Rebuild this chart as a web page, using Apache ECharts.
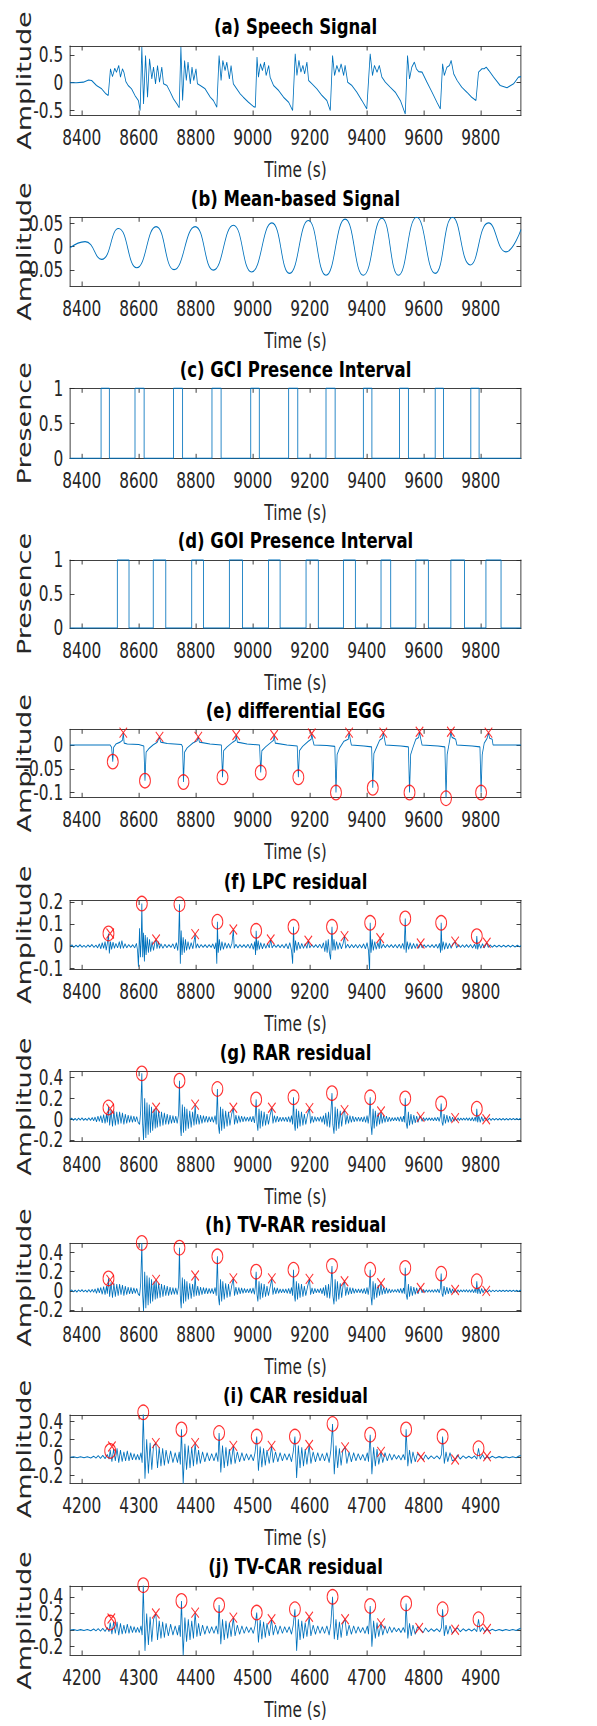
<!DOCTYPE html>
<html><head><meta charset="utf-8">
<script src="https://cdn.jsdelivr.net/npm/echarts@6/dist/echarts.min.js"></script>
<style>
html,body{margin:0;padding:0;background:#fff;overflow:hidden}
#wrap{width:597px;height:1726px;overflow:hidden;position:relative;background:#fff}
#chart{width:796px;height:1726px;transform:scaleX(0.75);transform-origin:0 0}
</style></head><body><div id="wrap"><div id="chart"></div></div>
<script>
// ---------------- DATA ----------------
const xTicksA = [8400,8600,8800,9000,9200,9400,9600,9800];
const xTicksB = [4200,4300,4400,4500,4600,4700,4800,4900];

const speech = [[8359,0],[8382,0],[8406,0.01],[8424,0.05],[8435,0.04],[8452,-0.05],[8470,-0.11],[8485,-0.2],[8493,-0.23],[8501,0.25],[8508,0.11],[8516,0.26],[8522,0.19],[8530,0.31],[8536,0.1],[8543,0.25],[8548,0.19],[8555,0.02],[8563,-0.05],[8575,-0.11],[8587,-0.23],[8599,-0.32],[8605,-0.5],[8611,0.64],[8617,-0.38],[8624,0.49],[8631,-0.26],[8638,0.43],[8646,0.07],[8652,0.28],[8659,-0.02],[8666,0.31],[8673,0.01],[8681,0.28],[8687,-0.02],[8699,-0.05],[8711,-0.17],[8722,-0.29],[8734,-0.38],[8742,-0.45],[8748,0.64],[8754,-0.32],[8761,0.4],[8767,0.04],[8773,0.37],[8781,-0.02],[8787,0.28],[8793,0.04],[8801,0.25],[8806,-0.02],[8816,-0.05],[8833,-0.11],[8851,-0.26],[8862,-0.32],[8874,-0.44],[8882,0.49],[8889,0.04],[8895,0.4],[8903,0.22],[8909,0.37],[8918,0.07],[8924,0.31],[8932,-0.02],[8944,-0.11],[8956,-0.2],[8967,-0.26],[8985,-0.35],[9003,-0.43],[9009,-0.44],[9015,0.46],[9020,0.1],[9027,0.34],[9034,0.22],[9041,0.37],[9047,0.13],[9056,0.31],[9061,0.1],[9073,-0.05],[9091,-0.14],[9108,-0.26],[9126,-0.35],[9140,-0.5],[9149,0.52],[9155,0.13],[9162,0.4],[9169,0.19],[9176,0.31],[9182,0.16],[9190,0.37],[9196,0.04],[9208,-0.02],[9225,-0.11],[9243,-0.23],[9260,-0.32],[9272,-0.5],[9280,0.49],[9287,0.13],[9295,0.31],[9303,0.19],[9310,0.34],[9319,0.13],[9324,0.31],[9333,0.01],[9348,-0.05],[9365,-0.17],[9383,-0.32],[9400,-0.47],[9412,0.52],[9420,0.13],[9427,0.31],[9436,0.19],[9444,0.31],[9453,0.1],[9465,0.01],[9482,-0.08],[9500,-0.17],[9518,-0.32],[9535,-0.56],[9543,0.49],[9550,0.07],[9558,0.28],[9567,0.37],[9574,0.25],[9582,0.2],[9594,0.19],[9611,0.01],[9629,-0.17],[9646,-0.35],[9658,-0.47],[9666,0.34],[9672,0.13],[9681,0.28],[9690,0.31],[9696,0.4],[9705,0.16],[9717,0.04],[9733,-0.08],[9751,-0.17],[9768,-0.26],[9783,-0.32],[9792,0.19],[9804,0.25],[9812,0.25],[9819,0.28],[9828,0.22],[9845,0.1],[9868,-0.05],[9892,-0.09],[9915,-0.02],[9932,0.1],[9941,0.11]];

const meanBased = [[8359,-0.002],[8412,0.011],[8470,-0.027],[8529,0.039],[8593,-0.045],[8661,0.043],[8724,-0.049],[8798,0.043],[8862,-0.05],[8932,0.046],[8996,-0.054],[9067,0.051],[9129,-0.057],[9195,0.056],[9257,-0.061],[9324,0.059],[9388,-0.061],[9453,0.061],[9511,-0.061],[9575,0.063],[9640,-0.057],[9701,0.063],[9763,-0.039],[9827,0.051],[9888,-0.011],[9941,0.037]];

const gciOn = [[8468,8497],[8587,8619],[8722,8754],[8857,8889],[8993,9023],[9126,9158],[9257,9289],[9388,9418],[9515,9546],[9640,9669],[9765,9794]];
const goiOn = [[8525,8566],[8651,8695],[8786,8827],[8918,8964],[9055,9096],[9187,9230],[9318,9360],[9450,9484],[9572,9616],[9695,9743],[9818,9871]];

const degg = [[8359,0],[8500,0],[8505,-0.005],[8509,-0.035],[8512,-0.005],[8520,0.002],[8535,0.006],[8543,0.01],[8546,0.026],[8549,0.004],[8560,0.002],[8600,0.001],[8618,-0.002],[8622,-0.075],[8626,-0.015],[8635,-0.008],[8650,0.0],[8665,0.006],[8673,0.017],[8677,0.006],[8700,0.003],[8750,0.001],[8754,-0.004],[8757,-0.078],[8761,-0.015],[8770,-0.006],[8790,0.004],[8805,0.009],[8809,0.017],[8813,0.006],[8850,0.002],[8890,0.0],[8894,-0.068],[8898,-0.012],[8910,-0.004],[8930,0.006],[8940,0.01],[8942,0.021],[8946,0.006],[8980,0.002],[9024,0.0],[9028,-0.058],[9032,-0.012],[9045,-0.004],[9065,0.006],[9073,0.01],[9075,0.021],[9079,0.004],[9120,0.0],[9156,-0.002],[9160,-0.068],[9164,-0.012],[9175,-0.003],[9195,0.008],[9205,0.012],[9207,0.024],[9211,0.01],[9215,0.0],[9260,-0.001],[9288,-0.003],[9292,-0.1],[9296,-0.02],[9305,-0.006],[9320,0.008],[9335,0.012],[9338,0.026],[9342,0.012],[9346,0.0],[9390,-0.002],[9417,-0.004],[9421,-0.09],[9425,-0.018],[9435,-0.004],[9445,0.01],[9455,0.014],[9458,0.026],[9462,0.014],[9466,0.0],[9520,-0.002],[9546,-0.004],[9550,-0.1],[9554,-0.02],[9562,-0.005],[9572,0.012],[9582,0.016],[9585,0.028],[9589,0.014],[9594,0.0],[9650,-0.002],[9674,-0.004],[9678,-0.112],[9682,-0.02],[9688,0.0],[9692,0.014],[9695,0.028],[9699,0.016],[9712,0.012],[9716,0.0],[9770,-0.002],[9797,-0.004],[9801,-0.1],[9805,-0.02],[9812,0.004],[9822,0.014],[9827,0.026],[9831,0.014],[9840,0.012],[9843,0.0],[9941,0.0]];
const deggGci = [[8509,-0.035],[8622,-0.075],[8757,-0.078],[8894,-0.068],[9028,-0.058],[9160,-0.068],[9292,-0.1],[9421,-0.09],[9550,-0.1],[9678,-0.112],[9801,-0.1]];
const deggGoi = [[8546,0.026],[8673,0.017],[8809,0.017],[8942,0.021],[9075,0.021],[9207,0.024],[9338,0.026],[9458,0.026],[9585,0.028],[9695,0.028],[9827,0.026]];

const lpc = [[8359,0],[8366,0.005],[8372,-0.006],[8380,0.004],[8387,-0.004],[8394,0.006],[8401,-0.005],[8408,0.003],[8415,-0.006],[8422,0.005],[8429,-0.004],[8436,0.007],[8443,-0.006],[8450,0.004],[8456,-0.008],[8462,0.01],[8467,-0.012],[8472,0.015],[8477,-0.01],[8482,0.02],[8486,-0.018],[8490,0.012],[8494,0.057],[8497,-0.033],[8501,0.02],[8505,-0.015],[8510,0.018],[8515,-0.01],[8520,0.012],[8526,-0.008],[8532,0.02],[8536,-0.012],[8541,0.025],[8546,-0.01],[8552,0.01],[8558,-0.008],[8565,0.007],[8572,-0.006],[8579,0.006],[8586,-0.008],[8592,0.012],[8596,-0.02],[8599,-0.093],[8603,0.08],[8606,-0.05],[8609,0.03],[8611,0.192],[8614,-0.05],[8617,0.06],[8620,-0.07],[8623,0.05],[8626,-0.04],[8630,0.04],[8634,-0.03],[8638,0.03],[8642,-0.025],[8647,0.02],[8652,-0.02],[8657,0.018],[8661,0.03],[8664,-0.012],[8669,0.02],[8673,-0.01],[8678,0.01],[8685,-0.01],[8692,0.008],[8699,-0.007],[8706,0.006],[8713,-0.006],[8720,0.01],[8726,-0.012],[8732,0.015],[8737,-0.02],[8740,0.03],[8743,0.189],[8746,-0.08],[8749,0.07],[8752,-0.04],[8756,0.04],[8760,-0.03],[8764,0.03],[8768,-0.02],[8773,0.02],[8778,-0.015],[8784,0.015],[8790,-0.012],[8798,0.054],[8801,-0.01],[8806,0.01],[8812,-0.008],[8819,0.007],[8826,-0.006],[8833,0.006],[8840,-0.007],[8847,0.006],[8854,-0.006],[8860,0.01],[8866,-0.012],[8871,0.015],[8874,-0.08],[8876,0.11],[8879,-0.03],[8883,0.03],[8887,-0.02],[8892,0.02],[8897,-0.015],[8903,0.015],[8909,-0.01],[8915,0.012],[8921,-0.01],[8927,0.012],[8932,0.075],[8935,-0.01],[8941,0.008],[8948,-0.008],[8955,0.007],[8962,-0.006],[8969,0.006],[8976,-0.007],[8983,0.008],[8990,-0.01],[8996,0.012],[9002,-0.015],[9007,0.02],[9010,-0.04],[9012,0.069],[9015,-0.02],[9019,0.025],[9023,-0.015],[9028,0.015],[9034,-0.012],[9040,0.012],[9046,-0.01],[9052,0.01],[9058,-0.008],[9063,0.03],[9068,-0.008],[9075,0.007],[9082,-0.006],[9089,0.006],[9096,-0.007],[9103,0.007],[9110,-0.008],[9117,0.01],[9124,-0.012],[9130,0.015],[9136,-0.02],[9140,-0.08],[9143,0.087],[9146,-0.03],[9150,0.025],[9155,-0.02],[9160,0.018],[9166,-0.012],[9172,0.012],[9178,-0.01],[9184,0.01],[9190,-0.01],[9195,0.024],[9200,-0.008],[9207,0.007],[9214,-0.006],[9221,0.006],[9228,-0.007],[9235,0.008],[9242,-0.01],[9248,0.015],[9253,-0.025],[9257,0.025],[9261,-0.03],[9265,0.03],[9269,-0.03],[9273,-0.06],[9276,0.03],[9278,0.087],[9281,-0.02],[9285,0.03],[9289,-0.02],[9294,0.02],[9299,-0.015],[9305,0.015],[9311,-0.012],[9317,0.012],[9322,0.045],[9326,-0.01],[9333,0.008],[9340,-0.008],[9347,0.007],[9354,-0.007],[9361,0.007],[9368,-0.008],[9375,0.007],[9382,-0.008],[9389,0.01],[9395,-0.012],[9401,0.015],[9406,-0.02],[9410,-0.115],[9412,0.105],[9415,-0.03],[9419,0.03],[9423,-0.02],[9428,0.02],[9433,-0.015],[9439,0.015],[9444,-0.012],[9447,0.035],[9451,-0.01],[9458,0.008],[9465,-0.007],[9472,0.007],[9479,-0.006],[9486,0.006],[9493,-0.007],[9500,0.007],[9507,-0.008],[9514,0.008],[9520,-0.01],[9526,0.012],[9531,-0.015],[9535,0.125],[9538,-0.03],[9542,0.02],[9547,-0.015],[9552,0.015],[9558,-0.012],[9564,0.012],[9570,-0.01],[9576,0.01],[9582,-0.01],[9589,0.012],[9594,-0.008],[9601,0.006],[9608,-0.006],[9615,0.005],[9622,-0.006],[9629,0.006],[9636,-0.007],[9643,0.008],[9649,-0.01],[9655,0.012],[9659,-0.03],[9661,0.105],[9664,-0.02],[9668,0.02],[9673,-0.015],[9678,0.015],[9684,-0.012],[9690,0.012],[9696,-0.01],[9702,0.01],[9710,0.02],[9715,-0.008],[9722,0.006],[9729,-0.006],[9736,0.005],[9743,-0.006],[9750,0.006],[9757,-0.006],[9764,0.007],[9771,-0.008],[9778,0.008],[9783,-0.012],[9786,0.045],[9789,-0.015],[9794,0.012],[9800,-0.01],[9806,0.01],[9812,-0.008],[9821,0.015],[9826,-0.006],[9833,0.005],[9840,-0.005],[9848,0.004],[9856,-0.004],[9864,0.004],[9872,-0.004],[9880,0.004],[9888,-0.004],[9896,0.004],[9904,-0.004],[9912,0.004],[9920,-0.004],[9928,0.004],[9936,-0.003],[9941,0.002]];
const lpcGci = [[8494,0.057],[8611,0.192],[8743,0.189],[8876,0.11],[9012,0.069],[9143,0.087],[9278,0.087],[9412,0.105],[9535,0.125],[9661,0.105],[9786,0.045]];
const lpcGoi = [[8500,0.057],[8661,0.03],[8798,0.054],[8932,0.075],[9063,0.03],[9195,0.024],[9322,0.045],[9447,0.035],[9589,0.012],[9710,0.02],[9821,0.015]];

const rar = [[8359,0],[8365,0.01],[8371,-0.01],[8377,0.008],[8383,-0.012],[8389,0.01],[8395,-0.008],[8401,0.012],[8407,-0.01],[8413,0.008],[8419,-0.012],[8425,0.012],[8431,-0.012],[8437,0.015],[8442,-0.015],[8447,0.02],[8452,-0.025],[8457,0.03],[8462,-0.02],[8467,0.035],[8472,-0.035],[8477,0.045],[8482,-0.04],[8487,0.05],[8490,-0.03],[8494,0.12],[8498,-0.06],[8503,0.09],[8508,-0.07],[8513,0.08],[8518,-0.06],[8523,0.07],[8528,-0.05],[8533,0.07],[8538,-0.04],[8543,0.06],[8548,-0.05],[8553,0.05],[8558,-0.04],[8563,0.04],[8568,-0.03],[8573,0.035],[8578,-0.03],[8583,0.03],[8588,-0.025],[8593,0.025],[8598,-0.03],[8603,-0.05],[8607,0.08],[8611,0.44],[8614,-0.05],[8617,-0.2],[8621,0.2],[8625,-0.18],[8629,0.16],[8633,-0.15],[8637,0.14],[8641,-0.13],[8645,0.12],[8649,-0.11],[8654,0.1],[8658,-0.09],[8661,0.11],[8665,-0.08],[8670,0.08],[8675,-0.07],[8680,0.07],[8685,-0.06],[8690,0.06],[8695,-0.05],[8700,0.05],[8705,-0.05],[8710,0.04],[8715,-0.04],[8720,0.035],[8725,-0.035],[8730,0.03],[8735,-0.04],[8740,0.05],[8743,0.37],[8746,-0.06],[8749,-0.16],[8753,0.14],[8757,-0.13],[8761,0.12],[8765,-0.11],[8769,0.1],[8774,-0.09],[8779,0.08],[8784,-0.08],[8789,0.07],[8794,-0.06],[8798,0.14],[8802,-0.05],[8807,0.05],[8812,-0.05],[8817,0.04],[8822,-0.04],[8827,0.035],[8832,-0.03],[8837,0.03],[8842,-0.03],[8847,0.025],[8852,-0.025],[8857,0.025],[8862,-0.03],[8868,0.035],[8872,-0.05],[8876,0.29],[8879,-0.04],[8883,-0.14],[8887,0.12],[8891,-0.11],[8895,0.1],[8900,-0.09],[8905,0.08],[8910,-0.07],[8915,0.07],[8920,-0.06],[8926,0.05],[8932,0.11],[8936,-0.05],[8941,0.04],[8946,-0.04],[8951,0.035],[8956,-0.03],[8961,0.03],[8966,-0.025],[8971,0.025],[8976,-0.02],[8981,0.02],[8986,-0.02],[8991,0.025],[8996,-0.025],[9001,0.03],[9006,-0.035],[9009,0.04],[9012,0.19],[9015,-0.04],[9018,-0.11],[9022,0.1],[9026,-0.09],[9030,0.08],[9035,-0.07],[9040,0.07],[9045,-0.06],[9050,0.05],[9055,-0.05],[9061,0.04],[9067,0.11],[9071,-0.04],[9076,0.035],[9081,-0.03],[9086,0.03],[9091,-0.025],[9096,0.02],[9101,-0.02],[9106,0.02],[9111,-0.02],[9116,0.02],[9121,-0.025],[9126,0.025],[9131,-0.03],[9136,0.035],[9140,-0.05],[9143,0.21],[9146,-0.04],[9149,-0.11],[9153,0.1],[9157,-0.09],[9161,0.08],[9166,-0.07],[9171,0.07],[9176,-0.06],[9181,0.05],[9186,-0.05],[9192,0.04],[9199,0.106],[9203,-0.04],[9208,0.03],[9213,-0.03],[9218,0.025],[9223,-0.02],[9228,0.02],[9233,-0.02],[9238,0.025],[9243,-0.03],[9248,0.035],[9252,-0.05],[9256,0.06],[9261,-0.07],[9266,0.07],[9270,-0.08],[9274,0.06],[9278,0.25],[9281,-0.05],[9285,-0.14],[9289,0.12],[9293,-0.11],[9297,0.1],[9302,-0.09],[9307,0.08],[9312,-0.07],[9317,0.06],[9322,0.087],[9326,-0.05],[9331,0.04],[9336,-0.04],[9341,0.035],[9346,-0.03],[9351,0.03],[9356,-0.025],[9361,0.02],[9366,-0.02],[9371,0.02],[9376,-0.02],[9381,0.02],[9386,-0.025],[9391,0.025],[9396,-0.03],[9401,0.035],[9405,-0.04],[9409,0.05],[9412,0.21],[9415,-0.06],[9418,-0.15],[9422,0.1],[9426,-0.09],[9430,0.08],[9435,-0.07],[9440,0.06],[9445,-0.05],[9450,0.074],[9454,-0.04],[9459,0.035],[9464,-0.03],[9469,0.03],[9474,-0.025],[9479,0.02],[9484,-0.02],[9489,0.015],[9494,-0.015],[9499,0.015],[9504,-0.015],[9509,0.02],[9514,-0.02],[9519,0.025],[9524,-0.025],[9529,0.03],[9532,-0.03],[9535,0.2],[9538,-0.03],[9542,-0.09],[9546,0.07],[9550,-0.06],[9555,0.05],[9560,-0.05],[9565,0.04],[9570,-0.035],[9575,0.03],[9580,-0.03],[9585,0.025],[9589,0.022],[9594,-0.02],[9599,0.015],[9604,-0.015],[9609,0.012],[9614,-0.012],[9619,0.012],[9624,-0.012],[9629,0.012],[9634,-0.015],[9639,0.015],[9644,-0.015],[9649,0.018],[9654,-0.02],[9658,0.025],[9661,0.15],[9664,-0.03],[9667,-0.06],[9671,0.05],[9676,-0.04],[9681,0.04],[9686,-0.03],[9691,0.03],[9696,-0.025],[9701,0.02],[9706,-0.02],[9710,0.01],[9715,-0.015],[9720,0.012],[9725,-0.012],[9730,0.01],[9735,-0.01],[9740,0.01],[9745,-0.01],[9750,0.012],[9755,-0.012],[9760,0.012],[9765,-0.015],[9770,0.015],[9775,-0.018],[9780,0.02],[9783,-0.02],[9786,0.1],[9789,-0.03],[9793,0.035],[9798,-0.03],[9803,0.025],[9808,-0.02],[9813,0.015],[9819,0.0],[9824,-0.012],[9830,0.01],[9836,-0.01],[9842,0.008],[9848,-0.008],[9854,0.008],[9860,-0.008],[9866,0.007],[9872,-0.007],[9878,0.007],[9884,-0.007],[9890,0.006],[9896,-0.007],[9902,0.007],[9908,-0.006],[9914,0.006],[9920,-0.006],[9926,0.007],[9932,-0.006],[9938,0.006],[9941,0.004]];
const rarGci = [[8494,0.112],[8611,0.44],[8743,0.37],[8876,0.29],[9012,0.19],[9143,0.21],[9278,0.25],[9412,0.21],[9535,0.2],[9661,0.15],[9786,0.1]];
const rarGoi = [[8500,0.1],[8661,0.11],[8798,0.14],[8932,0.11],[9067,0.11],[9199,0.106],[9322,0.087],[9450,0.074],[9589,0.022],[9710,0.01],[9819,0.0]];

const tvrar = [[8359,0],[8365,0.01],[8371,-0.01],[8377,0.008],[8383,-0.012],[8389,0.01],[8395,-0.008],[8401,0.012],[8407,-0.01],[8413,0.008],[8419,-0.012],[8425,0.012],[8431,-0.012],[8437,0.015],[8442,-0.015],[8447,0.02],[8452,-0.025],[8457,0.03],[8462,-0.02],[8467,0.035],[8472,-0.035],[8477,0.045],[8482,-0.04],[8487,0.05],[8490,-0.03],[8494,0.13],[8498,-0.06],[8503,0.09],[8508,-0.07],[8513,0.08],[8518,-0.06],[8523,0.07],[8528,-0.05],[8533,0.07],[8538,-0.04],[8543,0.06],[8548,-0.05],[8553,0.05],[8558,-0.04],[8563,0.04],[8568,-0.03],[8573,0.035],[8578,-0.03],[8583,0.03],[8588,-0.025],[8593,0.025],[8598,-0.03],[8603,-0.05],[8607,0.08],[8611,0.5],[8614,-0.05],[8617,-0.21],[8621,0.2],[8625,-0.18],[8629,0.16],[8633,-0.15],[8637,0.14],[8641,-0.13],[8645,0.12],[8649,-0.11],[8654,0.1],[8658,-0.09],[8661,0.115],[8665,-0.08],[8670,0.08],[8675,-0.07],[8680,0.07],[8685,-0.06],[8690,0.06],[8695,-0.05],[8700,0.05],[8705,-0.05],[8710,0.04],[8715,-0.04],[8720,0.035],[8725,-0.035],[8730,0.03],[8735,-0.04],[8740,0.05],[8743,0.45],[8746,-0.06],[8749,-0.18],[8753,0.14],[8757,-0.13],[8761,0.12],[8765,-0.11],[8769,0.1],[8774,-0.09],[8779,0.08],[8784,-0.08],[8789,0.07],[8794,-0.06],[8798,0.16],[8802,-0.05],[8807,0.05],[8812,-0.05],[8817,0.04],[8822,-0.04],[8827,0.035],[8832,-0.03],[8837,0.03],[8842,-0.03],[8847,0.025],[8852,-0.025],[8857,0.025],[8862,-0.03],[8868,0.035],[8872,-0.05],[8876,0.36],[8879,-0.04],[8883,-0.15],[8887,0.12],[8891,-0.11],[8895,0.1],[8900,-0.09],[8905,0.08],[8910,-0.07],[8915,0.07],[8920,-0.06],[8926,0.05],[8932,0.13],[8936,-0.05],[8941,0.04],[8946,-0.04],[8951,0.035],[8956,-0.03],[8961,0.03],[8966,-0.025],[8971,0.025],[8976,-0.02],[8981,0.02],[8986,-0.02],[8991,0.025],[8996,-0.025],[9001,0.03],[9006,-0.035],[9009,0.04],[9012,0.2],[9015,-0.04],[9018,-0.11],[9022,0.1],[9026,-0.09],[9030,0.08],[9035,-0.07],[9040,0.07],[9045,-0.06],[9050,0.05],[9055,-0.05],[9061,0.04],[9067,0.13],[9071,-0.04],[9076,0.035],[9081,-0.03],[9086,0.03],[9091,-0.025],[9096,0.02],[9101,-0.02],[9106,0.02],[9111,-0.02],[9116,0.02],[9121,-0.025],[9126,0.025],[9131,-0.03],[9136,0.035],[9140,-0.05],[9143,0.22],[9146,-0.04],[9149,-0.11],[9153,0.1],[9157,-0.09],[9161,0.08],[9166,-0.07],[9171,0.07],[9176,-0.06],[9181,0.05],[9186,-0.05],[9192,0.04],[9199,0.125],[9203,-0.04],[9208,0.03],[9213,-0.03],[9218,0.025],[9223,-0.02],[9228,0.02],[9233,-0.02],[9238,0.025],[9243,-0.03],[9248,0.035],[9252,-0.05],[9256,0.06],[9261,-0.07],[9266,0.07],[9270,-0.08],[9274,0.06],[9278,0.26],[9281,-0.05],[9285,-0.14],[9289,0.12],[9293,-0.11],[9297,0.1],[9302,-0.09],[9307,0.08],[9312,-0.07],[9317,0.06],[9322,0.1],[9326,-0.05],[9331,0.04],[9336,-0.04],[9341,0.035],[9346,-0.03],[9351,0.03],[9356,-0.025],[9361,0.02],[9366,-0.02],[9371,0.02],[9376,-0.02],[9381,0.02],[9386,-0.025],[9391,0.025],[9396,-0.03],[9401,0.035],[9405,-0.04],[9409,0.05],[9412,0.22],[9415,-0.06],[9418,-0.15],[9422,0.1],[9426,-0.09],[9430,0.08],[9435,-0.07],[9440,0.06],[9445,-0.05],[9450,0.08],[9454,-0.04],[9459,0.035],[9464,-0.03],[9469,0.03],[9474,-0.025],[9479,0.02],[9484,-0.02],[9489,0.015],[9494,-0.015],[9499,0.015],[9504,-0.015],[9509,0.02],[9514,-0.02],[9519,0.025],[9524,-0.025],[9529,0.03],[9532,-0.03],[9535,0.24],[9538,-0.03],[9542,-0.09],[9546,0.07],[9550,-0.06],[9555,0.05],[9560,-0.05],[9565,0.04],[9570,-0.035],[9575,0.03],[9580,-0.03],[9585,0.025],[9589,0.03],[9594,-0.02],[9599,0.015],[9604,-0.015],[9609,0.012],[9614,-0.012],[9619,0.012],[9624,-0.012],[9629,0.012],[9634,-0.015],[9639,0.015],[9644,-0.015],[9649,0.018],[9654,-0.02],[9658,0.025],[9661,0.18],[9664,-0.03],[9667,-0.06],[9671,0.05],[9676,-0.04],[9681,0.04],[9686,-0.03],[9691,0.03],[9696,-0.025],[9701,0.02],[9706,-0.02],[9710,0.01],[9715,-0.015],[9720,0.012],[9725,-0.012],[9730,0.01],[9735,-0.01],[9740,0.01],[9745,-0.01],[9750,0.012],[9755,-0.012],[9760,0.012],[9765,-0.015],[9770,0.015],[9775,-0.018],[9780,0.02],[9783,-0.02],[9786,0.1],[9789,-0.03],[9793,0.035],[9798,-0.03],[9803,0.025],[9808,-0.02],[9813,0.015],[9819,0.0],[9824,-0.012],[9830,0.01],[9836,-0.01],[9842,0.008],[9848,-0.008],[9854,0.008],[9860,-0.008],[9866,0.007],[9872,-0.007],[9878,0.007],[9884,-0.007],[9890,0.006],[9896,-0.007],[9902,0.007],[9908,-0.006],[9914,0.006],[9920,-0.006],[9926,0.007],[9932,-0.006],[9938,0.006],[9941,0.004]];
const tvrarGci = [[8494,0.13],[8611,0.5],[8743,0.45],[8876,0.36],[9012,0.2],[9143,0.22],[9278,0.26],[9412,0.22],[9535,0.24],[9661,0.18],[9786,0.1]];
const tvrarGoi = [[8500,0.115],[8661,0.115],[8798,0.16],[8932,0.13],[9067,0.13],[9199,0.125],[9322,0.1],[9450,0.08],[9589,0.03],[9710,0.01],[9819,0.0]];

const car = [[4180,0],[4186,0.006],[4192,-0.006],[4198,0.005],[4204,-0.006],[4210,0.006],[4216,-0.008],[4221,0.012],[4225,-0.01],[4229,0.018],[4233,-0.012],[4237,0.02],[4241,-0.015],[4245,0.03],[4248,-0.02],[4250,0.08],[4253,-0.05],[4256,0.09],[4259,-0.04],[4262,0.1],[4265,-0.06],[4268,0.08],[4271,-0.05],[4274,0.06],[4277,-0.04],[4280,0.07],[4283,-0.04],[4286,0.05],[4289,-0.03],[4292,0.04],[4295,-0.03],[4298,0.03],[4301,-0.03],[4304,0.05],[4306,-0.06],[4308,0.5],[4311,-0.24],[4314,0.2],[4317,-0.18],[4320,0.16],[4323,-0.14],[4326,0.13],[4330,0.157],[4333,-0.12],[4336,0.11],[4339,-0.1],[4342,0.1],[4345,-0.09],[4348,0.08],[4352,-0.07],[4356,0.07],[4360,-0.06],[4364,0.05],[4368,-0.06],[4371,0.06],[4373,-0.08],[4375,0.31],[4378,-0.3],[4381,0.15],[4384,-0.14],[4387,0.13],[4390,-0.12],[4393,0.11],[4396,-0.1],[4399,0.157],[4402,-0.08],[4405,0.08],[4408,-0.07],[4412,0.06],[4416,-0.05],[4420,0.05],[4424,-0.04],[4428,0.04],[4432,-0.04],[4436,0.05],[4439,-0.05],[4441,0.27],[4444,-0.17],[4447,0.13],[4450,-0.12],[4453,0.11],[4456,-0.1],[4459,0.09],[4462,-0.08],[4466,0.126],[4469,-0.07],[4473,0.06],[4477,-0.05],[4481,0.05],[4485,-0.04],[4489,0.04],[4493,-0.03],[4497,0.03],[4501,-0.04],[4504,0.05],[4507,0.23],[4510,-0.15],[4513,0.12],[4516,-0.11],[4519,0.1],[4522,-0.09],[4525,0.08],[4529,-0.07],[4533,0.126],[4536,-0.06],[4540,0.06],[4544,-0.05],[4548,0.05],[4552,-0.04],[4556,0.04],[4560,-0.03],[4564,0.04],[4568,-0.05],[4571,0.06],[4574,0.23],[4577,-0.23],[4580,0.13],[4583,-0.12],[4586,0.11],[4589,-0.1],[4592,0.09],[4595,-0.08],[4599,0.137],[4602,-0.07],[4606,0.06],[4610,-0.05],[4614,0.05],[4618,-0.04],[4622,0.04],[4626,-0.04],[4630,0.05],[4634,-0.06],[4637,0.08],[4640,0.37],[4643,-0.19],[4646,0.13],[4649,-0.12],[4652,0.1],[4655,-0.09],[4658,0.08],[4662,0.11],[4665,-0.07],[4669,0.06],[4673,-0.05],[4677,0.05],[4681,-0.04],[4685,0.04],[4689,-0.03],[4693,0.03],[4697,-0.04],[4701,0.05],[4703,-0.05],[4706,0.25],[4709,-0.19],[4712,0.11],[4715,-0.1],[4718,0.09],[4721,-0.08],[4725,0.06],[4728,-0.06],[4732,0.05],[4736,-0.04],[4740,0.04],[4744,-0.03],[4748,0.03],[4752,-0.02],[4756,0.02],[4760,-0.03],[4764,0.03],[4767,-0.03],[4769,0.31],[4772,-0.1],[4775,0.08],[4778,-0.07],[4781,0.06],[4785,-0.05],[4789,0.04],[4795,0.003],[4799,-0.03],[4803,0.025],[4808,-0.02],[4813,0.015],[4818,-0.015],[4823,0.015],[4828,-0.02],[4831,0.03],[4833,0.23],[4836,-0.07],[4839,0.06],[4842,-0.05],[4846,0.05],[4850,-0.04],[4855,-0.026],[4859,0.025],[4864,-0.02],[4869,0.015],[4874,-0.012],[4879,0.012],[4884,-0.012],[4889,0.015],[4893,-0.02],[4896,0.1],[4899,-0.02],[4903,0.03],[4907,-0.02],[4911,0.011],[4915,-0.012],[4920,0.01],[4926,-0.008],[4932,0.007],[4938,-0.007],[4944,0.006],[4950,-0.006],[4956,0.006],[4962,-0.005],[4966,0.01],[4970,0.02]];
const carGci = [[4250,0.07],[4308,0.5],[4375,0.31],[4441,0.27],[4507,0.23],[4574,0.23],[4640,0.37],[4706,0.25],[4769,0.31],[4833,0.23],[4896,0.1]];
const carGoi = [[4253,0.12],[4330,0.157],[4399,0.157],[4466,0.126],[4533,0.126],[4599,0.137],[4662,0.11],[4725,0.06],[4795,0.003],[4855,-0.026],[4911,0.011]];

const tvcar = [[4180,0],[4186,0.006],[4192,-0.006],[4198,0.005],[4204,-0.006],[4210,0.006],[4216,-0.008],[4221,0.012],[4225,-0.01],[4229,0.018],[4233,-0.012],[4237,0.02],[4241,-0.015],[4245,0.03],[4248,-0.02],[4250,0.09],[4253,-0.05],[4256,0.1],[4259,-0.04],[4262,0.1],[4265,-0.06],[4268,0.08],[4271,-0.05],[4274,0.06],[4277,-0.04],[4280,0.07],[4283,-0.04],[4286,0.05],[4289,-0.03],[4292,0.04],[4295,-0.03],[4298,0.03],[4301,-0.03],[4304,0.05],[4306,-0.06],[4308,0.54],[4311,-0.25],[4314,0.2],[4317,-0.18],[4320,0.16],[4323,-0.14],[4326,0.13],[4330,0.2],[4333,-0.12],[4336,0.11],[4339,-0.1],[4342,0.1],[4345,-0.09],[4348,0.08],[4352,-0.07],[4356,0.07],[4360,-0.06],[4364,0.05],[4368,-0.06],[4371,0.06],[4373,-0.08],[4375,0.35],[4378,-0.31],[4381,0.15],[4384,-0.14],[4387,0.13],[4390,-0.12],[4393,0.11],[4396,-0.1],[4399,0.21],[4402,-0.08],[4405,0.08],[4408,-0.07],[4412,0.06],[4416,-0.05],[4420,0.05],[4424,-0.04],[4428,0.04],[4432,-0.04],[4436,0.05],[4439,-0.05],[4441,0.3],[4444,-0.17],[4447,0.13],[4450,-0.12],[4453,0.11],[4456,-0.1],[4459,0.09],[4462,-0.08],[4466,0.15],[4469,-0.07],[4473,0.06],[4477,-0.05],[4481,0.05],[4485,-0.04],[4489,0.04],[4493,-0.03],[4497,0.03],[4501,-0.04],[4504,0.05],[4507,0.21],[4510,-0.15],[4513,0.12],[4516,-0.11],[4519,0.1],[4522,-0.09],[4525,0.08],[4529,-0.07],[4533,0.13],[4536,-0.06],[4540,0.06],[4544,-0.05],[4548,0.05],[4552,-0.04],[4556,0.04],[4560,-0.03],[4564,0.04],[4568,-0.05],[4571,0.06],[4574,0.25],[4577,-0.25],[4580,0.13],[4583,-0.12],[4586,0.11],[4589,-0.1],[4592,0.09],[4595,-0.08],[4599,0.16],[4602,-0.07],[4606,0.06],[4610,-0.05],[4614,0.05],[4618,-0.04],[4622,0.04],[4626,-0.04],[4630,0.05],[4634,-0.06],[4637,0.08],[4640,0.4],[4643,-0.11],[4646,0.13],[4649,-0.12],[4652,0.1],[4655,-0.09],[4658,0.08],[4662,0.13],[4665,-0.07],[4669,0.06],[4673,-0.05],[4677,0.05],[4681,-0.04],[4685,0.04],[4689,-0.03],[4693,0.03],[4697,-0.04],[4701,0.05],[4703,-0.05],[4706,0.29],[4709,-0.2],[4712,0.11],[4715,-0.1],[4718,0.09],[4721,-0.08],[4725,0.08],[4728,-0.06],[4732,0.05],[4736,-0.04],[4740,0.04],[4744,-0.03],[4748,0.03],[4752,-0.02],[4756,0.02],[4760,-0.03],[4764,0.03],[4767,-0.03],[4769,0.32],[4772,-0.1],[4775,0.08],[4778,-0.07],[4781,0.06],[4785,-0.05],[4789,0.04],[4792,0.024],[4799,-0.03],[4803,0.025],[4808,-0.02],[4813,0.015],[4818,-0.015],[4823,0.015],[4828,-0.02],[4831,0.03],[4833,0.25],[4836,-0.07],[4839,0.06],[4842,-0.05],[4846,0.05],[4850,-0.04],[4855,0.004],[4859,0.025],[4864,-0.02],[4869,0.015],[4874,-0.012],[4879,0.012],[4884,-0.012],[4889,0.015],[4893,-0.02],[4896,0.13],[4899,-0.02],[4903,0.03],[4907,-0.02],[4911,0.012],[4915,-0.012],[4920,0.01],[4926,-0.008],[4932,0.007],[4938,-0.007],[4944,0.006],[4950,-0.006],[4956,0.006],[4962,-0.005],[4966,0.01],[4970,0.02]];
const tvcarGci = [[4250,0.09],[4308,0.54],[4375,0.35],[4441,0.3],[4507,0.21],[4574,0.25],[4640,0.4],[4706,0.29],[4769,0.32],[4833,0.25],[4896,0.13]];
const tvcarGoi = [[4252,0.14],[4330,0.2],[4399,0.21],[4466,0.15],[4533,0.13],[4599,0.16],[4662,0.13],[4725,0.08],[4792,0.024],[4855,0.004],[4911,0.012]];

// ---------------- LAYOUT / STYLE ----------------
const K = 0.75;                 // horizontal squeeze of the original figure
const FONT = '"DejaVu Sans", sans-serif';
const TXT = '#262626';
const PL = 70 / K, PW = 451 / K;

function stepLine(on, x0, x1) {
  const out = [[x0, 0]];
  on.forEach(([a, b]) => { out.push([a, 1]); out.push([b, 0]); });
  out.push([x1, 0]);
  return out;
}

const panels = [
  {title:'(a) Speech Signal', ylab:'Amplitude', top:46, bottom:115, x:[8359,9941], xt:xTicksA, y:[-0.58,0.66], yt:[-0.5,0,0.5], line:speech},
  {title:'(b) Mean-based Signal', ylab:'Amplitude', top:217.3, bottom:286, x:[8359,9941], xt:xTicksA, y:[-0.084,0.063], yt:[-0.05,0,0.05], line:meanBased, smooth:true},
  {title:'(c) GCI Presence Interval', ylab:'Presence', top:388.3, bottom:458.3, x:[8359,9941], xt:xTicksA, y:[0,1], yt:[0,0.5,1], line:stepLine(gciOn,8359,9941), step:'end', noclip:true},
  {title:'(d) GOI Presence Interval', ylab:'Presence', top:560, bottom:628, x:[8359,9941], xt:xTicksA, y:[0,1], yt:[0,0.5,1], line:stepLine(goiOn,8359,9941), step:'end', noclip:true},
  {title:'(e) differential EGG', ylab:'Amplitude', top:729.3, bottom:797.3, x:[8359,9941], xt:xTicksA, y:[-0.11,0.033], yt:[-0.1,-0.05,0], line:degg, circ:deggGci, cross:deggGoi},
  {title:'(f) LPC residual', ylab:'Amplitude', top:900.5, bottom:969.3, x:[8359,9941], xt:xTicksA, y:[-0.105,0.206], yt:[-0.1,0,0.1,0.2], line:lpc, circ:lpcGci, cross:lpcGoi},
  {title:'(g) RAR residual', ylab:'Amplitude', top:1071.7, bottom:1141.7, x:[8359,9941], xt:xTicksA, y:[-0.216,0.456], yt:[-0.2,0,0.2,0.4], line:rar, circ:rarGci, cross:rarGoi},
  {title:'(h) TV-RAR residual', ylab:'Amplitude', top:1243.3, bottom:1311.7, x:[8359,9941], xt:xTicksA, y:[-0.217,0.496], yt:[-0.2,0,0.2,0.4], line:tvrar, circ:tvrarGci, cross:tvrarGoi},
  {title:'(i) CAR residual', ylab:'Amplitude', top:1415, bottom:1483.3, x:[4179.5,4970.5], xt:xTicksB, y:[-0.29,0.47], yt:[-0.2,0,0.2,0.4], line:car, circ:carGci, cross:carGoi},
  {title:'(j) TV-CAR residual', ylab:'Amplitude', top:1586, bottom:1655, x:[4179.5,4970.5], xt:xTicksB, y:[-0.3,0.53], yt:[-0.2,0,0.2,0.4], line:tvcar, circ:tvcarGci, cross:tvcarGoi}
];

const grids = [], xAxes = [], yAxes = [], series = [], graphics = [];
const lineSt = {color: '#262626', width: 1};
const fmt = v => String(Math.round(v * 1000) / 1000);
const labelBase = {show: true, formatter: fmt, fontSize: 20.5, fontFamily: FONT, color: TXT, hideOverlap: false, showMinLabel: true, showMaxLabel: true};
panels.forEach((p, i) => {
  grids.push({left: PL, width: PW, top: p.top, height: p.bottom - p.top, containLabel: false, outerBoundsMode: 'none'});
  const common = {type: 'value', gridIndex: i, splitLine: {show: false}, axisLine: {show: true, onZero: false, lineStyle: lineSt}};
  xAxes.push(Object.assign({}, common, {position: 'bottom', min: p.x[0], max: p.x[1],
    axisTick: {show: true, inside: true, length: 4.5, customValues: p.xt, lineStyle: lineSt},
    axisLabel: Object.assign({}, labelBase, {customValues: p.xt, margin: 12})}));
  xAxes.push(Object.assign({}, common, {position: 'top', min: p.x[0], max: p.x[1],
    axisTick: {show: true, inside: true, length: 4.5, customValues: p.xt, lineStyle: lineSt},
    axisLabel: {show: false}}));
  // left axis: line, all ticks, labels at even positions
  const ytA = p.yt.filter((v, k) => k % 2 === 0);
  const ytB = p.yt.filter((v, k) => k % 2 === 1);
  yAxes.push(Object.assign({}, common, {position: 'left', min: p.y[0], max: p.y[1],
    axisTick: {show: true, inside: true, length: 6, customValues: p.yt, lineStyle: lineSt},
    axisLabel: Object.assign({}, labelBase, {customValues: ytA, margin: 9})}));
  // second left axis: only the remaining labels (keeps neighbouring labels from being culled)
  yAxes.push(Object.assign({}, common, {position: 'left', offset: 0, min: p.y[0], max: p.y[1],
    axisLine: {show: false, onZero: false}, axisTick: {show: false},
    axisLabel: Object.assign({}, labelBase, {customValues: ytB, margin: 9})}));
  yAxes.push(Object.assign({}, common, {position: 'right', min: p.y[0], max: p.y[1],
    axisTick: {show: true, inside: true, length: 6, customValues: p.yt, lineStyle: lineSt},
    axisLabel: {show: false}}));
  const xi = 2 * i, yi = 3 * i;
  series.push({type: 'line', xAxisIndex: xi, yAxisIndex: yi, data: p.line, showSymbol: false, symbol: 'none',
    lineStyle: {color: '#0072BD', width: 1.1}, smooth: p.smooth || false, step: p.step || false,
    clip: !p.noclip, animation: false, silent: true, z: 3});
  if (p.circ) series.push({type: 'scatter', xAxisIndex: xi, yAxisIndex: yi, data: p.circ, symbol: 'circle', symbolSize: 14.5,
    itemStyle: {color: 'rgba(0,0,0,0)', borderColor: '#FF0000', borderWidth: 1.3}, clip: false, animation: false, silent: true, z: 5});
  if (p.cross) series.push({type: 'scatter', xAxisIndex: xi, yAxisIndex: yi, data: p.cross, symbol: 'path://M0 0L10 10M10 0L0 10', symbolSize: 10,
    itemStyle: {color: 'none', borderColor: '#FF0000', borderWidth: 1.3}, clip: false, animation: false, silent: true, z: 5});
  const mid = PL + PW / 2;
  graphics.push({type: 'text', x: mid, y: p.top - 19, silent: true,
    style: {text: p.title, fontSize: 22, fontWeight: 'bold', fontFamily: FONT, fill: '#000', align: 'center', verticalAlign: 'middle', textAlign: 'center', textVerticalAlign: 'middle'}});
  graphics.push({type: 'text', x: mid, y: p.bottom + 54.5, silent: true,
    style: {text: 'Time (s)', fontSize: 20.5, fontFamily: FONT, fill: TXT, align: 'center', verticalAlign: 'middle', textAlign: 'center', textVerticalAlign: 'middle'}});
  graphics.push({type: 'text', x: 24 / K, y: (p.top + p.bottom) / 2, rotation: Math.PI / 2, silent: true,
    style: {text: p.ylab, fontSize: 27, fontFamily: FONT, fill: TXT, align: 'center', verticalAlign: 'middle', textAlign: 'center', textVerticalAlign: 'middle'}});
});

const chart = echarts.init(document.getElementById('chart'), null, {renderer: 'svg', width: 796, height: 1726});
chart.setOption({
  animation: false,
  backgroundColor: '#fff',
  grid: grids, xAxis: xAxes, yAxis: yAxes, series: series,
  graphic: {elements: graphics}
});
</script></body></html>
